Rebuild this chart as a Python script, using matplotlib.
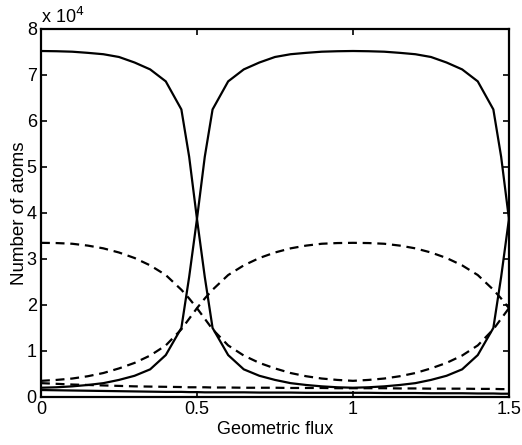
import matplotlib
matplotlib.use("Agg")
import matplotlib.pyplot as plt

plt.rcParams['font.family'] = ['Liberation Sans', 'DejaVu Sans']

# Geometric flux samples
flux = [0, 0.05, 0.1, 0.15, 0.2, 0.25, 0.3, 0.35, 0.4, 0.45, 0.475, 0.5, 0.525,
        0.55, 0.6, 0.65, 0.7, 0.75, 0.8, 0.85, 0.9, 0.95, 1.0, 1.05, 1.1, 1.15,
        1.2, 1.25, 1.3, 1.35, 1.4, 1.45, 1.475, 1.5]

# Number of atoms (units of 1e4) - solid curves
solid_a = [7.52, 7.515, 7.505, 7.48, 7.45, 7.39, 7.27, 7.12, 6.86, 6.25, 5.22, 3.87, 2.61,
           1.50, 0.91, 0.60, 0.46, 0.37, 0.30, 0.26, 0.23, 0.21, 0.20, 0.21, 0.23, 0.26,
           0.30, 0.37, 0.46, 0.60, 0.91, 1.50, 2.61, 3.87]
solid_b = [0.20, 0.21, 0.23, 0.26, 0.30, 0.37, 0.46, 0.60, 0.91, 1.50, 2.61, 3.87, 5.22,
           6.25, 6.86, 7.12, 7.27, 7.39, 7.45, 7.48, 7.505, 7.515, 7.52, 7.515, 7.505, 7.48,
           7.45, 7.39, 7.27, 7.12, 6.86, 6.25, 5.22, 3.87]
solid_c = [0.15, 0.145, 0.14, 0.135, 0.13, 0.125, 0.12, 0.115, 0.11, 0.11, 0.105, 0.105, 0.10,
           0.10, 0.10, 0.10, 0.095, 0.095, 0.095, 0.09, 0.09, 0.09, 0.09, 0.09, 0.085, 0.085,
           0.085, 0.08, 0.08, 0.08, 0.075, 0.075, 0.07, 0.07]

# Dashed curves
dashed_a = [3.35, 3.345, 3.33, 3.29, 3.23, 3.14, 3.02, 2.86, 2.65, 2.33, 2.14, 1.93, 1.70,
            1.47, 1.12, 0.90, 0.74, 0.62, 0.52, 0.45, 0.40, 0.37, 0.35, 0.37, 0.40, 0.45,
            0.52, 0.62, 0.74, 0.90, 1.12, 1.47, 1.70, 1.93]
dashed_b = [0.35, 0.37, 0.40, 0.45, 0.52, 0.62, 0.74, 0.90, 1.12, 1.47, 1.70, 1.93, 2.14,
            2.33, 2.65, 2.86, 3.02, 3.14, 3.23, 3.29, 3.33, 3.345, 3.35, 3.345, 3.33, 3.29,
            3.23, 3.14, 3.02, 2.86, 2.65, 2.33, 2.14, 1.93]
dashed_c = [0.30, 0.285, 0.27, 0.26, 0.25, 0.24, 0.23, 0.225, 0.22, 0.215, 0.21, 0.21, 0.21,
            0.205, 0.205, 0.20, 0.20, 0.20, 0.195, 0.195, 0.195, 0.19, 0.19, 0.19, 0.19, 0.185,
            0.185, 0.18, 0.18, 0.18, 0.175, 0.175, 0.17, 0.17]

xticks = [0, 0.5, 1, 1.5]
xticklabels = ['0', '0.5', '1', '1.5']
yticks = [0, 1, 2, 3, 4, 5, 6, 7, 8]
yticklabels = ['0', '1', '2', '3', '4', '5', '6', '7', '8']

fig = plt.figure(figsize=(5.22, 4.45), dpi=100)
ax = fig.add_axes([0.0785, 0.108, 0.8965, 0.827])

lw = 1.6
dash = (0, (4, 2.6))
for s in (solid_a, solid_b, solid_c):
    ax.plot(flux, s, color='black', lw=lw, solid_joinstyle='miter')
for d in (dashed_a, dashed_b, dashed_c):
    ax.plot(flux, d, color='black', lw=lw, linestyle=dash)

ax.set_xlim(0, 1.5)
ax.set_ylim(0, 8)
ax.set_xticks(xticks)
ax.set_xticklabels(xticklabels)
ax.set_yticks(yticks)
ax.set_yticklabels(yticklabels)
ax.tick_params(direction='in', length=4, width=1.2, top=True, right=True,
               labelsize=13, pad=3, colors='black')
for sp in ax.spines.values():
    sp.set_linewidth(1.6)

ax.set_xlabel('Geometric flux', fontsize=13, labelpad=2)
ax.set_ylabel('Number of atoms', fontsize=13.5, labelpad=-1)
ax.text(0.0, 1.004, r'x 10$^{4}$', transform=ax.transAxes, fontsize=13,
        ha='left', va='bottom')

fig.savefig('out.png', dpi=100)
